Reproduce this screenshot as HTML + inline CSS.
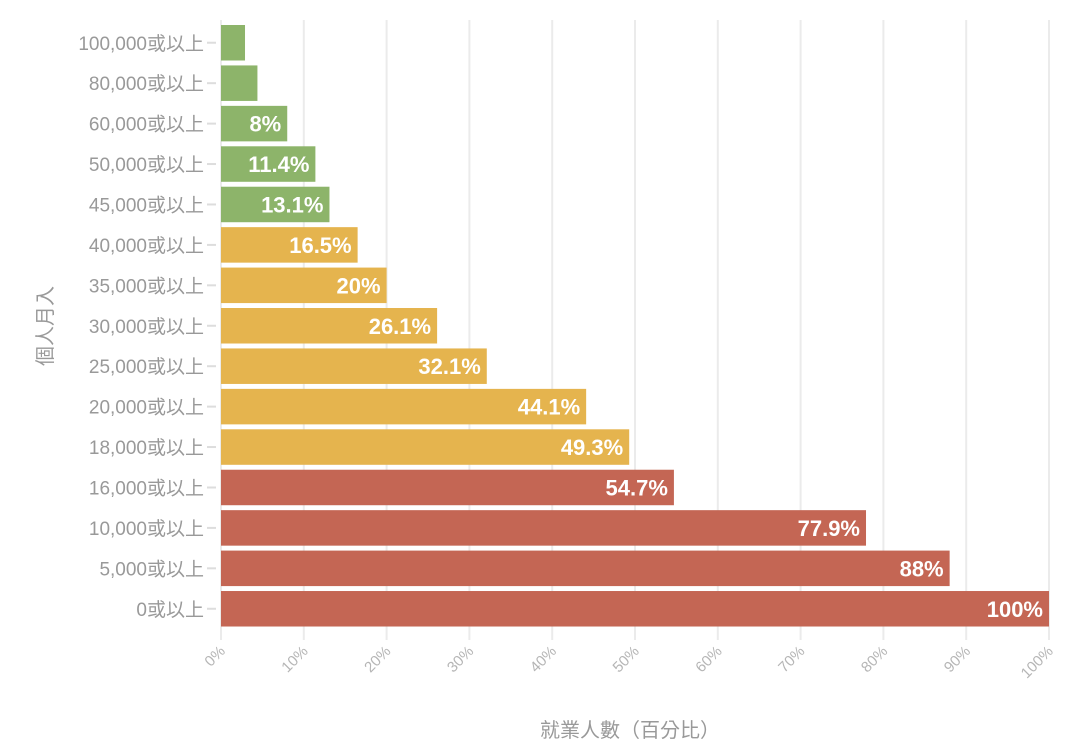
<!DOCTYPE html>
<html><head><meta charset="utf-8"><style>
body{margin:0;background:#fff;}
svg{display:block;font-family:"Liberation Sans","Noto Sans CJK TC",sans-serif;}
</style></head><body>
<svg id="chart" width="1080" height="753"></svg>
<script>
const categories=["100,000或以上","80,000或以上","60,000或以上","50,000或以上","45,000或以上","40,000或以上","35,000或以上","30,000或以上","25,000或以上","20,000或以上","18,000或以上","16,000或以上","10,000或以上","5,000或以上","0或以上"];
const values=[2.9,4.4,8,11.4,13.1,16.5,20,26.1,32.1,44.1,49.3,54.7,77.9,88,100];
const labels=["","","8%","11.4%","13.1%","16.5%","20%","26.1%","32.1%","44.1%","49.3%","54.7%","77.9%","88%","100%"];
const groups=["g","g","g","g","g","y","y","y","y","y","y","r","r","r","r"];
const xTicks=[0,10,20,30,40,50,60,70,80,90,100];
const colors={g:"#8db46a",y:"#e5b44e",r:"#c46654"};
const NS="http://www.w3.org/2000/svg";
const svg=document.getElementById("chart");
const x0=221,x1=1049,yTop=25,pitch=40.43,bh=35.5;
const xs=v=>x0+(x1-x0)*v/100;
const ys=i=>yTop+i*pitch;
function mk(t,a,p){const e=document.createElementNS(NS,t);for(const k in a)e.setAttribute(k,a[k]);(p||svg).appendChild(e);return e;}
xTicks.forEach(t=>{
  const g=mk("line",{x1:xs(t),x2:xs(t),y1:20,y2:640,stroke:"#ebebeb","stroke-width":2});
  
  
  const tx=mk("text",{x:xs(t)+5,y:652,"text-anchor":"end","font-size":15,fill:"#b5b5b5",transform:`rotate(-45 ${xs(t)+5} 652)`});
  tx.textContent=t+"%";
  
  
});
categories.forEach((c,i)=>{
  const y=ys(i);
  const r=mk("rect",{x:x0,y:y,width:xs(values[i])-x0,height:bh,fill:colors[groups[i]]});
  
  
  const tk=mk("line",{x1:207,x2:216,y1:y+bh/2,y2:y+bh/2,stroke:"#ddd","stroke-width":2});
  
  
  const t=mk("text",{x:204,y:y+bh/2+7,"text-anchor":"end","font-size":19,fill:"#999"});
  t.textContent=c;
  
  
  if(labels[i]){
    const l=mk("text",{x:xs(values[i])-6,y:y+bh/2+8,"text-anchor":"end","font-size":22,"font-weight":"bold",fill:"#fff"});
    l.textContent=labels[i];
    
    
  }
});
const yt=mk("text",{x:52,y:326,"text-anchor":"middle","font-size":20,fill:"#999",transform:"rotate(-90 52 326)"});
yt.textContent="個人月入";


const xt=mk("text",{x:630,y:737,"text-anchor":"middle","font-size":20,fill:"#999"});
xt.textContent="就業人數（百分比）";


</script>
</body></html>
